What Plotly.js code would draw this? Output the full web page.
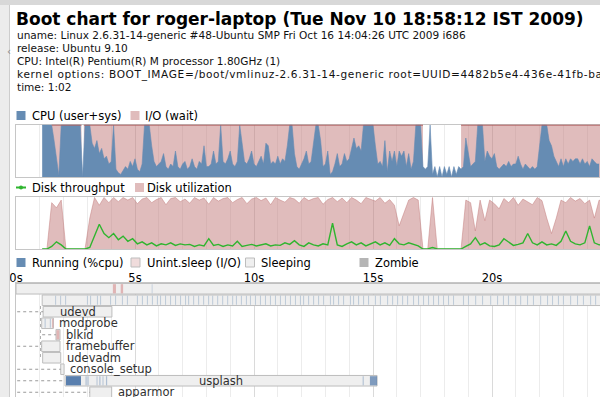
<!DOCTYPE html>
<html><head><meta charset="utf-8">
<script src="https://cdn.plot.ly/plotly-3.0.1.min.js"></script>
<style>html,body{margin:0;padding:0;background:#fff;overflow:hidden}#chart{width:600px;height:397px}</style>
</head><body><div id="chart"></div>
<script>
// ---------------- data ----------------
const titleText = "Boot chart for roger-laptop (Tue Nov 10 18:58:12 IST 2009)";
const infoLines = [
  "uname: Linux 2.6.31-14-generic #48-Ubuntu SMP Fri Oct 16 14:04:26 UTC 2009 i686",
  "release: Ubuntu 9.10",
  "CPU: Intel(R) Pentium(R) M processor 1.80GHz (1)",
  "kernel options: BOOT_IMAGE=/boot/vmlinuz-2.6.31-14-generic root=UUID=4482b5e4-436e-41fb-ba",
  "time: 1:02"
];
const cpuLegend = ["CPU (user+sys)", "I/O (wait)"];
const diskLegend = ["Disk throughput", "Disk utilization"];
const procLegend = ["Running (%cpu)", "Unint.sleep (I/O)", "Sleeping", "Zombie"];

// CPU usage (%), sampled every 0.1 s from 1.1 s
const cpuStart = 1.1, cpuStep = 0.1;
const cpuUsage = [
  100,100,100,100,100, 70,35,3, 100,100,100,100,100,100,100,100,100, 0, 100,100,100,
  65,55,70,45,55,35,40,25,30,
  100,15,8,5,12,20,15,30,20,35,
  15,10,25,100,100,100,60,30,20,25,
  30,45,20,15,25,20,50,20,15,25,
  30,15,20,35,20,15,30,25,60,20,
  20,25,50,25,30,100,30,25,35,50,
  25,20,30,100,60,30,25,35,50,25,
  20,30,40,25,65,60,25,30,25,40,
  25,35,30,60,100,100,45,20,15,25,
  35,50,25,30,70,100,100,70,20,25,
  50,5,10,25,45,20,25,45,30,35,
  55,75,55,60,50,100,100,100,100,100,
  60,25,30,20,70,10,50,30,50,20,
  50,40,50,20,45,15,30,100,100,100,
  20,15,20,100,5,20,0,20,0,20,
  5,20,0,20,5,20,15,20,75,45,
  20,25,30,100,100,100,30,50,40,35,
  45,20,15,20,25,20,30,20,25,25,
  40,25,15,25,20,15,20,15,20,60,
  100,100,100,70,60,40,30,20,35,20,
  35,25,35,30,35,35,25,35,25,30,
  20,35,30,25,25
];
// intervals (s) where CPU + I/O wait saturates at 100 %
const ioWaitStart = [1.5, 2.85, 18.7];
const ioWaitEnd   = [2.75, 17.1, 24.7];

// Disk, sampled every 0.2 s from 1.1 s
const diskStart = 1.1, diskStep = 0.2;
const diskUtil = [
  0,0, 90,80,95, 0,0,0,0,0,
  60,100,85,100,90,100,92,100,
  95,100,88,97,100,90,96,100,86,98,
  100,92,97,89,100,95,99,87,100,93,
  98,100,90,96,100,88,97,100,94,99,
  86,100,95,91,100,97,89,100,94,98,
  100,87,96,100,92,99,90,100,95,88,
  100,97,93,100,89,96,
  85,45,70,95,100,95,0,
  0,100,0,0,0,0,0,0,
  95,90,35,95,55,95,88,78,98,90,100,85,97,92,86,100,94,60,30,60,95,90,100,93,98,88,95,60,95,92
];
const diskThroughput = [
  0,0,5,14,8,0,0,0,0,0,
  3,25,48,30,22,30,18,25,15,20,
  10,14,8,12,6,10,8,12,7,10,
  8,9,5,8,6,20,7,9,5,8,
  6,15,5,7,9,6,8,10,6,8,
  7,12,9,16,8,5,12,8,6,10,
  8,50,8,5,10,14,8,12,6,10,
  14,8,12,7,20,10,8,12,9,6,
  0,0,3,0,0,0,0,0,0,5,
  10,22,8,12,6,5,8,20,14,7,
  9,12,30,12,8,14,8,10,7,15,
  35,15,10,8,12,45,12,8,10
];

// Processes (row order top -> bottom)
const procNames = ["", "", "udevd", "modprobe", "blkid", "framebuffer", "udevadm", "console_setup", "usplash", "apparmor"];
const procStart = [0.0, 1.1, 1.14, 1.08, 1.68, 1.08, 1.12, 1.88, 2.06, 3.1];
const procEnd   = [62, 62, 4.03, 1.57, 1.85, 1.85, 1.88, 2.02, 15.17, 4.02];
const procParentT = [null, null, 0.05, null, 1.1, 0.05, null, 0.05, 0.05, 0.05];

// running samples inside bars
const runRow   = [8, 8, 8, 8, 8, 8, 8, 8, 8, 3, 3, 0];
const runStart = [2.1, 2.92, 3.0, 3.38, 3.5, 3.63, 3.78, 14.56, 14.87, 1.2, 1.42, 5.7];
const runEnd   = [2.73, 2.97, 3.05, 3.43, 3.55, 3.68, 3.83, 14.62, 15.17, 1.25, 1.47, 5.74];
const runLevel = [0.95, 0.4, 0.4, 0.3, 0.4, 0.3, 0.4, 0.3, 0.7, 0.3, 0.3, 0.25];
// uninterruptible sleep samples
const ioRow   = [0, 0, 3, 4];
const ioStart = [4.07, 4.4, 1.52, 1.7];
const ioEnd   = [4.2, 4.5, 1.57, 1.82];
// light activity ticks of the second process row
const row1Ticks = [1.64,1.85,2.06,2.98,3.11,3.40,3.53,3.95,4.16,4.45,4.66,5.08,5.29,5.50,5.71,5.92,6.05,6.26,6.47,6.68,6.89,7.10,7.23,7.44,7.65,7.86,8.07,8.24,8.45,8.66,8.87,9.08,9.24,9.45,9.66,9.83,10.04,10.25,10.46,10.67,10.88,11.09,11.30,11.51,11.72,11.93,12.06,12.27,12.48,12.69,12.90,13.19,13.32,13.53,13.74,14.03,14.16,14.37,14.58,14.79,15.08,15.29,15.59,15.80,16.01,16.22,16.43,16.68,16.89,17.10,17.31,17.52,17.73,17.94,18.15,18.36,18.78,18.99,19.29,19.58,19.92,20.21,20.46,20.67,20.97,21.18,21.47,21.72,22.02,22.31,22.52,22.77,22.98,23.28,23.57,23.82,24.12,24.33];

// ---------------- geometry / styles ----------------
const W = 600, H = 397;
const px = x => x / W, py = y => 1 - y / H;
const secPx = 23.8;
const xDom = [16 / W, 1];
const xMax = (W - 16) / secPx;
const FONT = "DejaVu Sans";
const CPU_C = "#668cb3", IO_C = "rgba(194,122,122,0.5)", IO_LINE = "rgba(176,96,96,0.85)";
const THR_C = "#2fb52f";

// ---------------- traces ----------------
const ioX = [], ioY = [], ioTopX = [], ioTopY = [];
ioWaitStart.forEach((s, k) => {
  const e = ioWaitEnd[k];
  ioX.push(s, s, e, e); ioY.push(0, 100, 100, 0);
  ioTopX.push(s, e, null); ioTopY.push(100, 100, null);
});
const traces = [
  {type:"scatter", mode:"lines", x:ioX, y:ioY, fill:"tozeroy", fillcolor:IO_C, line:{width:0, color:IO_C}, xaxis:"x", yaxis:"y", hoverinfo:"skip"},
  {type:"scatter", mode:"lines", x0:cpuStart, dx:cpuStep, y:cpuUsage, fill:"tozeroy", fillcolor:CPU_C, line:{width:0.6, color:CPU_C}, xaxis:"x", yaxis:"y"},
  {type:"scatter", mode:"lines", x:ioTopX, y:ioTopY, line:{width:1.4, color:IO_LINE}, xaxis:"x", yaxis:"y", connectgaps:false},
  {type:"scatter", mode:"lines", x0:diskStart, dx:diskStep, y:diskUtil, fill:"tozeroy", fillcolor:IO_C, line:{width:0.8, color:"rgba(194,122,122,0.6)"}, xaxis:"x2", yaxis:"y2"},
  {type:"scatter", mode:"lines", x0:diskStart, dx:diskStep, y:diskThroughput, line:{width:1.4, color:THR_C}, xaxis:"x2", yaxis:"y2"},
  // process bars
  {type:"bar", orientation:"h", y:procNames.map((n,i)=>i), base:procStart, x:procEnd.map((e,i)=>e-procStart[i]),
   width:0.92, marker:{color:"#efefef", line:{color:"#bdbdbd", width:1}}, xaxis:"x3", yaxis:"y3"},
  // row 1 activity ticks
  {type:"bar", orientation:"h", y:row1Ticks.map(()=>1), base:row1Ticks, x:row1Ticks.map(()=>0.045),
   width:0.8, marker:{color:"rgba(102,140,179,0.35)", line:{width:0}}, xaxis:"x3", yaxis:"y3"},
  // uninterruptible sleep
  {type:"bar", orientation:"h", y:ioRow, base:ioStart, x:ioEnd.map((e,i)=>e-ioStart[i]),
   width:0.8, marker:{color:"rgba(214,140,140,0.6)", line:{width:0}}, xaxis:"x3", yaxis:"y3"},
  // running
  {type:"bar", orientation:"h", y:runRow, base:runStart, x:runEnd.map((e,i)=>e-runStart[i]),
   width:0.8, marker:{color:runLevel.map(a=>`rgba(80,120,170,${a})`), line:{width:0}}, xaxis:"x3", yaxis:"y3"}
];

// ---------------- layout ----------------
function xAx(anchor, extra) {
  return Object.assign({domain:xDom, range:[0, xMax], anchor:anchor, showgrid:true, gridcolor:"#dadada", gridwidth:1,
    tick0:0, dtick:5, minor:{dtick:1, showgrid:true, gridcolor:"#ececec", gridwidth:1, ticks:""},
    showline:true, linecolor:"#c6c6c6", linewidth:1, ticks:"", showticklabels:false, zeroline:false,
    fixedrange:true, layer:"below traces"}, extra || {});
}
function yAx(domain, range, extra) {
  return Object.assign({domain:domain, range:range, showgrid:false, zeroline:false, showticklabels:false, ticks:"",
    showline:true, linecolor:"#c6c6c6", linewidth:1, fixedrange:true, layer:"below traces"}, extra || {});
}
const rowPx = 11.5, procTop = 283;
const layout = {
  width:W, height:H, margin:{l:0, r:0, t:0, b:0}, paper_bgcolor:"#fff", plot_bgcolor:"rgba(0,0,0,0)",
  showlegend:false, barmode:"overlay", font:{family:FONT, color:"#000"},
  xaxis: xAx("y", {mirror:true}),
  yaxis: yAx([py(177), py(124.5)], [0, 101]),
  xaxis2: xAx("y2", {mirror:true}),
  yaxis2: yAx([py(249), py(197)], [0, 101]),
  xaxis3: xAx("y3", {side:"top", showticklabels:true, ticksuffix:"s", ticklabelstandoff:-5,
                     tickfont:{size:11.5, color:"#000", family:FONT}}),
  yaxis3: yAx([0, py(procTop)], [-0.5 + (H - procTop) / rowPx, -0.5]),
  shapes:[], annotations:[]
};
const S = layout.shapes, A = layout.annotations;

// window chrome
S.push({type:"rect", xref:"paper", yref:"paper", x0:0, x1:px(9.5), y0:0, y1:1, fillcolor:"#ececec", line:{width:0}, layer:"below"});
S.push({type:"line", xref:"paper", yref:"paper", x0:px(9.5), x1:px(9.5), y0:0, y1:py(5), line:{color:"#cdcdcd", width:1}});
S.push({type:"rect", xref:"paper", yref:"paper", x0:0, x1:1, y0:py(5), y1:1, fillcolor:"#d8d8d8", line:{width:0}});
A.push({xref:"paper", yref:"paper", x:px(9), y:py(51), text:"‹", showarrow:false, font:{size:10, color:"#888"}, xanchor:"center", yanchor:"middle"});

// title & info
A.push({xref:"paper", yref:"paper", x:px(14), y:py(19), xanchor:"left", yanchor:"middle", showarrow:false,
  text:"<b>"+titleText+"</b>", font:{size:17, color:"#000", family:FONT}});
infoLines.forEach((t, i) => A.push({xref:"paper", yref:"paper", x:px(15), y:py(35 + 13 * i), xanchor:"left", yanchor:"middle",
  showarrow:false, text:t, font:{size:10.55, color:"#111", family:FONT}}));

// legends
function sq(x0, yc, fill, border) {
  S.push({type:"rect", xref:"paper", yref:"paper", x0:px(x0), x1:px(x0 + 9), y0:py(yc + 4.5), y1:py(yc - 4.5),
    fillcolor:fill, line:{color:border || fill, width:border ? 1 : 0}});
}
function lbl(x, yc, t) {
  A.push({xref:"paper", yref:"paper", x:px(x), y:py(yc), xanchor:"left", yanchor:"middle", showarrow:false,
    text:t, font:{size:11.5, color:"#000", family:FONT}});
}
sq(16.5, 115.5, CPU_C); lbl(29.5, 115.5, cpuLegend[0]);
sq(130.5, 115.5, "#e0bcbc"); lbl(142.5, 115.5, cpuLegend[1]);
S.push({type:"line", xref:"paper", yref:"paper", x0:px(16), x1:px(26), y0:py(187.5), y1:py(187.5), line:{color:THR_C, width:2}});
S.push({type:"circle", xref:"paper", yref:"paper", x0:px(19), x1:px(23), y0:py(189.5), y1:py(185.5), fillcolor:THR_C, line:{width:0}});
lbl(29.5, 187.5, diskLegend[0]);
sq(135, 187.5, "#e0bcbc"); lbl(144.5, 187.5, diskLegend[1]);
sq(16.5, 262.5, CPU_C); lbl(29.5, 262.5, procLegend[0]);
sq(131, 262.5, "#f0dcdc", "#bdbdbd"); lbl(144.5, 262.5, procLegend[1]);
sq(245.5, 262.5, "#efefef", "#bdbdbd"); lbl(259, 262.5, procLegend[2]);
sq(359.5, 262.5, "#b5b5b5"); lbl(373, 262.5, procLegend[3]);

// parent connector dotted lines and labels
procNames.forEach((n, i) => {
  if (procParentT[i] !== null) {
    S.push({type:"line", xref:"x3", yref:"y3", x0:procParentT[i], x1:procStart[i], y0:i, y1:i, line:{color:"#9a9a9a", width:1, dash:"dot"}, layer:"above"});
  }
  if (!n) return;
  const barW = (procEnd[i] - procStart[i]) * secPx;
  const textW = n.length * 6.6;
  if (textW < barW) {
    A.push({xref:"x3", yref:"y3", x:(procStart[i] + procEnd[i]) / 2, y:i, xanchor:"center", yanchor:"middle", showarrow:false,
      text:n, font:{size:11.5, color:"#303030", family:FONT}});
  } else {
    A.push({xref:"x3", yref:"y3", x:procEnd[i], y:i, xshift:4, xanchor:"left", yanchor:"middle", showarrow:false,
      text:n, font:{size:11.5, color:"#303030", family:FONT}});
  }
});
S.push({type:"line", xref:"x3", yref:"y3", x0:1.03, x1:1.03, y0:1.5, y1:6, line:{color:"#b0b0b0", width:1, dash:"dot"}});

Plotly.newPlot("chart", traces, layout, {staticPlot:true, displayModeBar:false}).then(gd => {
  // the kernel-options line is drawn a little wider in the original: keep its left edge, spread it to the right edge
  gd.querySelectorAll("text.annotation-text").forEach(el => {
    if (el.textContent.indexOf("kernel options") !== 0) return;
    const bb = el.getBBox();
    const target = 585;
    if (bb.width >= target) return;
    el.setAttribute("text-anchor", "start");
    el.setAttribute("x", bb.x);
    el.querySelectorAll("tspan").forEach(t => { if (t.hasAttribute("x")) t.setAttribute("x", bb.x); });
    el.setAttribute("textLength", target);
    el.setAttribute("lengthAdjust", "spacing");
  });
});
</script>
</body></html>
